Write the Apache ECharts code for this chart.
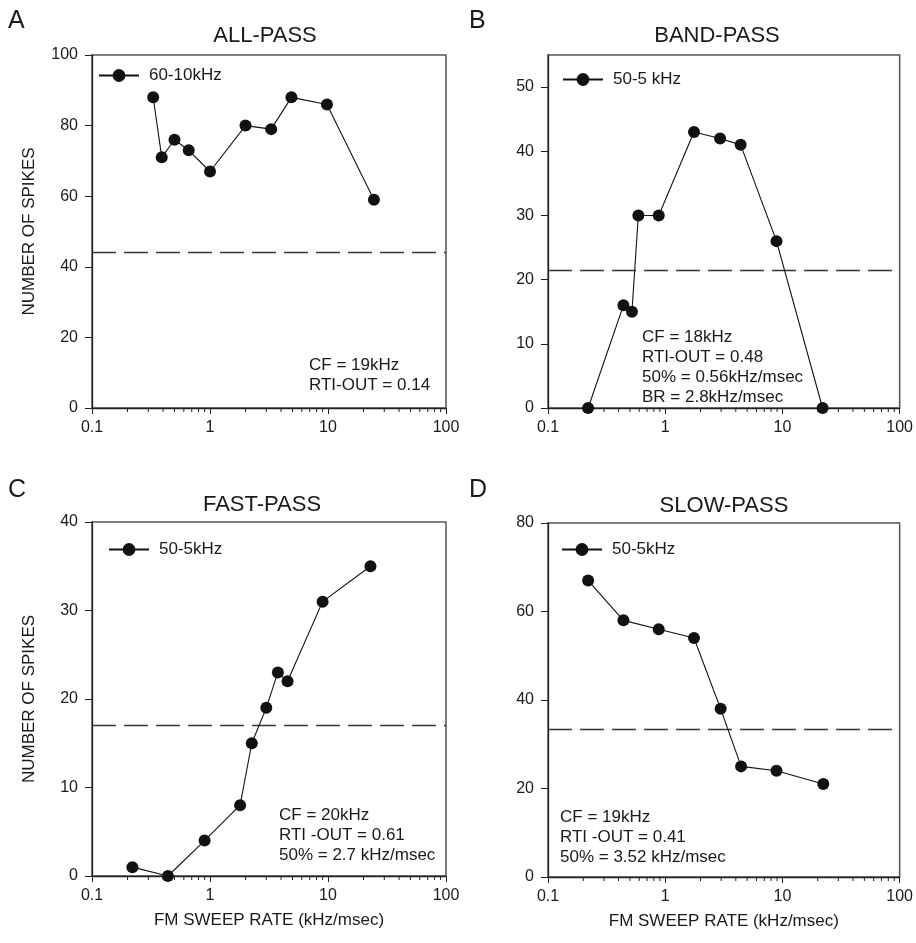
<!DOCTYPE html>
<html><head><meta charset="utf-8">
<script src="https://cdn.jsdelivr.net/npm/echarts@6/dist/echarts.min.js"></script>
<style>html,body{margin:0;padding:0;background:#fff}#c{width:916px;height:943px}</style>
</head><body><div id="c"></div>
<script>
// ---------- data ----------
const panelLetters = ['A', 'B', 'C', 'D'];
const panelTitles = ['ALL-PASS', 'BAND-PASS', 'FAST-PASS', 'SLOW-PASS'];
const seriesNames = ['60-10kHz', '50-5 kHz', '50-5kHz', '50-5kHz'];

const rateA = [0.33, 0.39, 0.5, 0.66, 1.0, 2.0, 3.3, 4.9, 9.8, 24.5];
const spikesA = [88, 71, 76, 73, 67, 80, 79, 88, 86, 59];

const rateB = [0.22, 0.44, 0.52, 0.59, 0.88, 1.76, 2.94, 4.4, 8.9, 22];
const spikesB = [0, 16, 15, 30, 30, 43, 42, 41, 26, 0];

const rateC = [0.22, 0.44, 0.9, 1.8, 2.26, 3.0, 3.76, 4.54, 9.0, 22.9];
const spikesC = [1, 0, 4, 8, 15, 19, 23, 22, 31, 35];

const rateD = [0.22, 0.44, 0.88, 1.76, 2.97, 4.44, 8.9, 22.3];
const spikesD = [67, 58, 56, 54, 38, 25, 24, 21];

const thresholds = [44, 21.5, 17, 33.5];

const yTicksA = [0, 20, 40, 60, 80, 100];
const yTicksB = [0, 10, 20, 30, 40, 50];
const yTicksC = [0, 10, 20, 30, 40];
const yTicksD = [0, 20, 40, 60, 80];
const yMaxes = [100, 55, 40, 80];

const xTicks = [0.1, 1, 10, 100];
const xMinorTicks = [0.2, 0.3, 0.4, 0.5, 0.6, 0.7, 0.8, 0.9,
                     2, 3, 4, 5, 6, 7, 8, 9,
                     20, 30, 40, 50, 60, 70, 80, 90];

const notes = [
  ['CF = 19kHz', 'RTI-OUT = 0.14'],
  ['CF = 18kHz', 'RTI-OUT = 0.48', '50% = 0.56kHz/msec', 'BR = 2.8kHz/msec'],
  ['CF = 20kHz', 'RTI -OUT = 0.61', '50% = 2.7 kHz/msec'],
  ['CF = 19kHz', 'RTI -OUT = 0.41', '50% = 3.52 kHz/msec']
];
const yName = 'NUMBER OF SPIKES';
const xName = 'FM SWEEP RATE (kHz/msec)';

// ---------- layout ----------
const FONT = 'Liberation Sans, Arial, sans-serif';
const TXT = '#1a1a1a';
const grids = [
  {left: 92, top: 55, width: 354, height: 353},
  {left: 548, top: 55, width: 354, height: 353},
  {left: 92, top: 522, width: 354, height: 354},
  {left: 548, top: 523, width: 354, height: 354}
];
const rates = [rateA, rateB, rateC, rateD];
const spikes = [spikesA, spikesB, spikesC, spikesD];
const yTicks = [yTicksA, yTicksB, yTicksC, yTicksD];
const titlePos = [[265, 36], [717, 36], [262, 505], [724, 506]];
const letterPos = [[8, 34], [469, 34], [8, 503], [469, 503]];
const legendPos = [[98, 67], [562, 71], [108, 541], [561, 541]];
const notePos = [[309, 355], [642, 327], [279, 805], [560, 807]];

const option = {
  animation: false,
  backgroundColor: '#fff',
  textStyle: {fontFamily: FONT, color: TXT},
  grid: grids.map(g => Object.assign({show: true, borderColor: '#555', borderWidth: 1.5, backgroundColor: 'transparent'}, g)),
  xAxis: grids.map((g, i) => ({
    type: 'log', gridIndex: i, logBase: 10, min: xTicks[0], max: xTicks[xTicks.length - 1],
    name: i >= 2 ? xName : '', nameLocation: 'middle', nameGap: 36,
    nameTextStyle: {fontSize: 17, color: TXT, fontFamily: FONT},
    axisLine: {lineStyle: {color: '#222', width: 1.3}},
    axisTick: {show: true, inside: false, length: 6, lineStyle: {color: '#222', width: 1}},
    axisLabel: {fontSize: 16, color: TXT, fontFamily: FONT, margin: 12,
      formatter: v => String(+Number(v).toPrecision(3))},
    splitLine: {show: false}, minorTick: {show: false}
  })),
  yAxis: grids.map((g, i) => ({
    type: 'value', gridIndex: i, min: 0, max: yMaxes[i],
    name: (i === 0 || i === 2) ? yName : '', nameLocation: 'middle', nameGap: 54,
    nameTextStyle: {fontSize: 17, color: TXT, fontFamily: FONT},
    axisLine: {lineStyle: {color: '#222', width: 1.3}},
    axisTick: {show: true, inside: false, length: 7, customValues: yTicks[i], lineStyle: {color: '#222', width: 1}},
    axisLabel: {fontSize: 16, color: TXT, fontFamily: FONT, margin: 14, customValues: yTicks[i]},
    splitLine: {show: false}
  })),
  legend: grids.map((g, i) => ({
    data: [seriesNames[i]], left: legendPos[i][0], top: legendPos[i][1], padding: 0,
    orient: 'horizontal', itemWidth: 40, itemHeight: 16,
    textStyle: {fontSize: 17, color: TXT, fontFamily: FONT, padding: [0, 0, 0, 5]},
    selectedMode: false
  })),
  graphic: [],
  series: []
};

grids.forEach((g, i) => {
  option.series.push({
    type: 'line', name: seriesNames[i], xAxisIndex: i, yAxisIndex: i,
    data: rates[i].map((x, k) => [x, spikes[i][k]]),
    symbol: 'circle', symbolSize: 12, showSymbol: true,
    lineStyle: {color: '#111', width: 1.1},
    itemStyle: {color: '#111'},
    clip: false, z: 5,
    markLine: {
      silent: true, symbol: 'none', label: {show: false},
      lineStyle: {type: [24, 8], color: '#333', width: 1.4},
      data: [{yAxis: thresholds[i]}]
    }
  });
  option.series.push({
    type: 'custom', xAxisIndex: i, yAxisIndex: i, silent: true, clip: false,
    data: xMinorTicks.map(v => [v, 0]),
    renderItem: (params, api) => {
      const p = api.coord([api.value(0), api.value(1)]);
      return {type: 'line', shape: {x1: p[0], y1: p[1], x2: p[0], y2: p[1] + 4},
              style: {stroke: '#222', lineWidth: 1}};
    }
  });
  option.graphic.push({
    type: 'text', x: titlePos[i][0], y: titlePos[i][1],
    style: {text: panelTitles[i], font: '22px ' + FONT, fill: TXT, textAlign: 'center', textVerticalAlign: 'middle'}
  });
  option.graphic.push({
    type: 'text', x: letterPos[i][0], y: letterPos[i][1],
    style: {text: panelLetters[i], font: '25px ' + FONT, fill: TXT, textAlign: 'left', textVerticalAlign: 'bottom'}
  });
  option.graphic.push({
    type: 'text', x: notePos[i][0], y: notePos[i][1],
    style: {text: notes[i].join('\n'), font: '17px ' + FONT, fill: TXT, lineHeight: 20,
            textAlign: 'left', textVerticalAlign: 'top'}
  });
});

const chart = echarts.init(document.getElementById('c'), null, {renderer: 'canvas'});
chart.setOption(option);
</script>
</body></html>
